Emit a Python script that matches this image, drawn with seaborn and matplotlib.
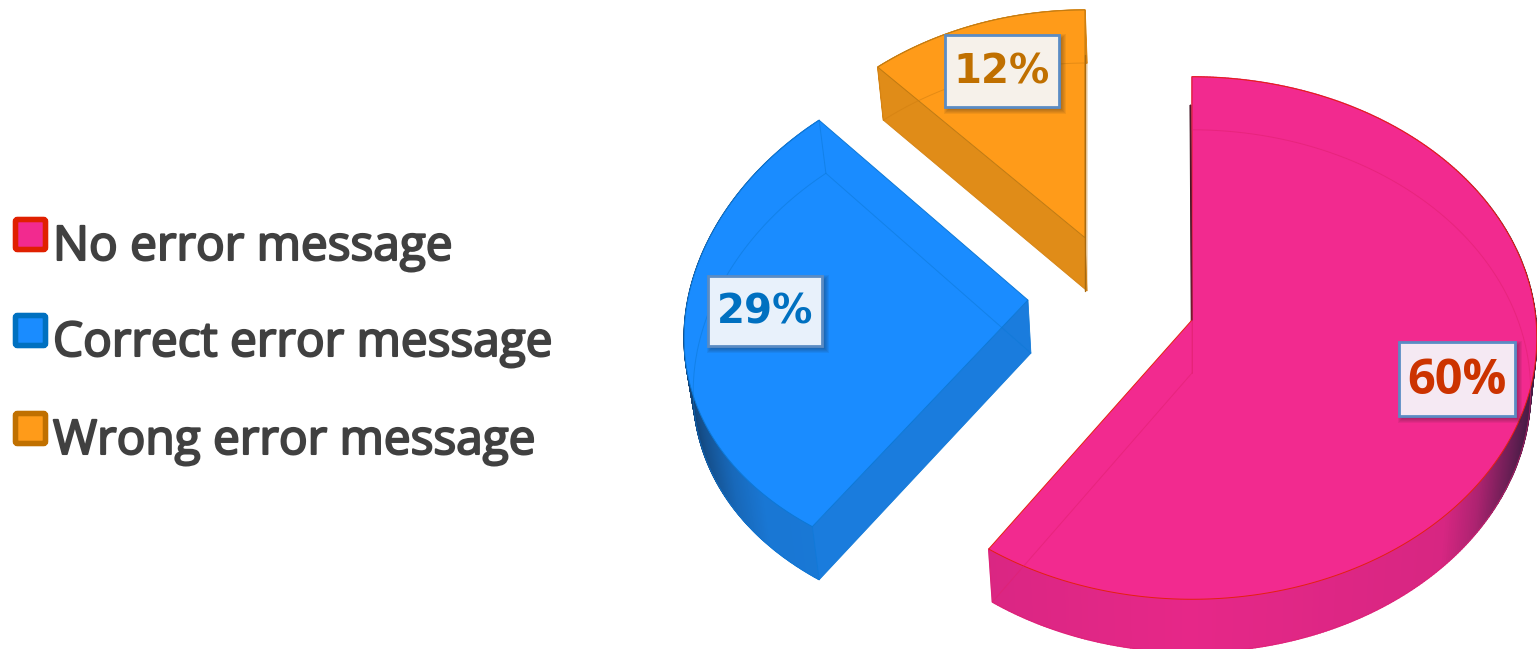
import numpy as np
import matplotlib
matplotlib.use("Agg")
import matplotlib.pyplot as plt
import matplotlib.patheffects as pe
from matplotlib.collections import PolyCollection
from matplotlib.patches import FancyBboxPatch, Polygon, Rectangle
import seaborn as sns

# Chart data
categories = ["No error message", "Correct error message", "Wrong error message"]
values = [60, 29, 12]

# Colours per slice
top_colors = sns.color_palette(["#F22A8F", "#1A8CFF", "#FF9B19"])
side_colors = ["#E62788", "#1A7CDD", "#E08C18"]
edge_colors = ["#E5200F", "#0C78D6", "#BF7A12"]
hidden_colors = ["#E0206F", "#0C78D6", "#D07E10"]
shade_colors = ["#2A1A3A", "#123A66", "#6A4010"]
swatch_edges = ["#E02000", "#0070C0", "#C07000"]
label_text_colors = ["#CC3300", "#0070C0", "#C07000"]
label_box_faces = ["#F5E9F3", "#E8F1FB", "#F6F1EA"]

# Slice layout: explode offsets, per-slice foreshortening, label boxes, legend rows
explode = [(0.0, 0.0), (-0.477, -0.077), (-0.311, -0.325)]
foreshorten_x = [0.069, 0.147, 0.12]
foreshorten_y = [0.069, 0.069, 0.084]
label_boxes = [(1399, 342, 116, 74), (708, 276, 114, 70), (945, 35, 114, 72)]
label_fonts = [("Open Sans", "bold", 35), ("DejaVu Sans", "bold", 29), ("DejaVu Sans", "bold", 29)]
legend_rows = [217, 313, 411]

# Projection of the tilted pie onto the page
CX, CY = 1192, 320
RX, RY = 344, 260
DEPTH = 53
DEPTH_SHRINK = 0.982

sns.set_theme(style="white")
plt.rcParams["font.family"] = ["Open Sans", "DejaVu Sans"]

fig = plt.figure(figsize=(15.37, 6.49), dpi=100, facecolor="white")
ax = fig.add_axes([0, 0, 1, 1])
ax.set_xlim(0, 1537)
ax.set_ylim(649, 0)
ax.axis("off")


def top_point(u, v, i):
    du, dv = explode[i]
    x = CX + RX * du + RX * u / (1 - foreshorten_x[i] * (v + dv))
    y = CY + RY * (v + dv) / (1 - foreshorten_y[i] * (v + dv))
    return x, y


def bottom_point(x, y):
    return CX + (x - CX) * DEPTH_SHRINK, y + DEPTH


shares = np.array(values, dtype=float) / sum(values) * 360
starts = np.concatenate([[0], np.cumsum(shares)[:-1]])

for i in range(len(values)):
    thetas = np.radians(np.linspace(starts[i], starts[i] + shares[i], 400))
    tx, ty = top_point(np.sin(thetas), -np.cos(thetas), i)
    bx, by = bottom_point(tx, ty)
    ax0, ay0 = top_point(0.0, 0.0, i)
    bx0, by0 = bottom_point(ax0, ay0)

    # Outer wall, darkening where it turns away at the sides
    dark = np.interp(np.abs(np.sin(thetas)), [0, 0.7, 0.8, 0.87, 0.95, 1], [0, 0.08, 0.3, 0.55, 0.8, 0.9])
    side = np.array(matplotlib.colors.to_rgb(side_colors[i]))
    shade = np.array(matplotlib.colors.to_rgb(shade_colors[i]))
    quads, quad_colors = [], []
    for j in range(len(thetas) - 1):
        quads.append([(tx[j], ty[j]), (tx[j + 1], ty[j + 1]), (bx[j + 1], by[j + 1]), (bx[j], by[j])])
        quad_colors.append(side * (1 - dark[j]) + shade * dark[j])
    ax.add_collection(PolyCollection(quads, facecolors=quad_colors, edgecolors=quad_colors, linewidths=1.0, zorder=2))

    # Cut face along the leading radius
    ax.add_patch(Polygon([(ax0, ay0), (tx[0], ty[0]), (bx[0], by[0]), (bx0, by0)],
                         facecolor=side_colors[i], edgecolor=side_colors[i], lw=0.5, zorder=3))

    # Top face
    outline = np.column_stack([np.r_[ax0, tx], np.r_[ay0, ty]])
    ax.add_patch(Polygon(outline, closed=True, facecolor=top_colors[i],
                         edgecolor=edge_colors[i], lw=0.7, zorder=4))

    # Far edges showing faintly through the translucent body
    hidden = np.column_stack([np.r_[bx0, bx, bx0], np.r_[by0, by, by0]])
    ax.plot(hidden[:, 0], hidden[:, 1], color=hidden_colors[i], lw=0.7, alpha=0.55, zorder=5)
    for (x0, y0, x1, y1) in [(ax0, ay0, bx0, by0), (tx[0], ty[0], bx[0], by[0]), (tx[-1], ty[-1], bx[-1], by[-1])]:
        ax.plot([x0, x1], [y0, y1], color=hidden_colors[i], lw=0.7, alpha=0.55, zorder=5)

# Dark seam down the back radius of the two right-hand slices
ax.plot([CX - 1.5, CX], [105, 370], color="#3A1020", lw=1.4, zorder=1, solid_capstyle="butt")
ax.plot([CX - 1.5, CX], [105, 320], color="#5A1830", lw=1.0, zorder=6, alpha=0.8)
ox, oy = top_point(0.0, 0.0, 2)
ax.plot([ox, ox], [55, oy + DEPTH], color="#A86A10", lw=1.0, zorder=6)

# Percentage labels in shadowed boxes
for i, (x, y, w, h) in enumerate(label_boxes):
    for grow in range(6, 0, -1):
        ax.add_patch(Rectangle((x + 3 - grow + 2, y + 3 - grow + 2), w + 2 * grow - 4, h + 2 * grow - 4,
                               facecolor="#202020", edgecolor="none", alpha=0.07, zorder=7))
    ax.add_patch(Rectangle((x, y), w, h, facecolor=label_box_faces[i], edgecolor="#5B8CC4", lw=2.0, zorder=8))
    family, weight, size = label_fonts[i]
    ax.text(x + w / 2, y + h / 2 + 2, f"{values[i]}%", color=label_text_colors[i], family=family,
            weight=weight, fontsize=size, ha="center", va="center", zorder=9)

# Legend
for i, row in enumerate(legend_rows):
    ax.add_patch(FancyBboxPatch((15.5, row + 2.5), 30, 30, boxstyle="round,pad=0,rounding_size=2",
                                facecolor=top_colors[i], edgecolor=swatch_edges[i], lw=4.0, zorder=3))
    ax.text(53, row + 43, categories[i], color="#404040", fontsize=34.4, family="Open Sans",
            ha="left", va="baseline",
            path_effects=[pe.withStroke(linewidth=1.5, foreground="#404040")])

fig.savefig("out.png", dpi=100, facecolor="white")
